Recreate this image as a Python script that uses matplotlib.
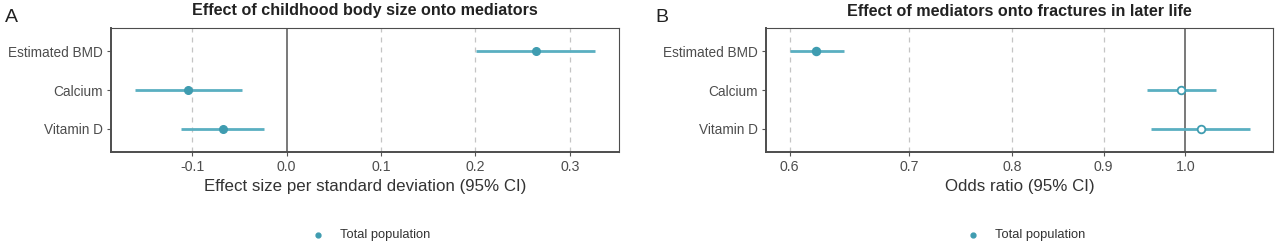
import numpy as np
import matplotlib
matplotlib.use('Agg')
import matplotlib.pyplot as plt
from matplotlib.lines import Line2D
from matplotlib.ticker import FixedLocator, NullLocator

plt.rcParams['font.family'] = ['Liberation Sans', 'DejaVu Sans']

# Panel A: effect of childhood body size onto mediators
mediators = ['Estimated BMD', 'Calcium', 'Vitamin D']
beta_a = [0.264, -0.104, -0.067]
lo_a = [0.201, -0.161, -0.112]
hi_a = [0.327, -0.047, -0.024]
ticks_a = [-0.1, 0.0, 0.1, 0.2, 0.3]

# Panel B: effect of mediators onto fractures in later life (odds ratios)
or_b = [0.621, 0.994, 1.021]
lo_b = [0.600, 0.952, 0.957]
hi_b = [0.644, 1.041, 1.087]
signif_b = [True, False, False]
ticks_b = [0.6, 0.7, 0.8, 0.9, 1.0]

LINE_C = '#5aafc1'
DOT_C = '#3f9cb0'
FRAME_C = '#4d4d4d'
TXT_C = '#4d4d4d'

fig = plt.figure(figsize=(12.8, 2.47), dpi=100)
ax_a = fig.add_axes([111 / 1280, 95 / 247, 508 / 1280, 124 / 247])
ax_b = fig.add_axes([766 / 1280, 95 / 247, 507 / 1280, 124 / 247])

ypos = np.arange(len(mediators))[::-1] + 1


def style(ax, ticks, ref, xlabel, title):
    for t in ticks:
        if t == ref:
            continue
        ax.axvline(t, color='#c4c4c4', lw=0.9, ls=(0, (4, 4)), zorder=0)
    ax.axvline(ref, color='#555555', lw=1.1, zorder=1)
    ax.set_ylim(0.41, 3.59)
    ax.set_yticks(ypos)
    ax.set_yticklabels(mediators, fontsize=9.8, color=TXT_C)
    ax.xaxis.set_major_locator(FixedLocator(ticks))
    ax.xaxis.set_minor_locator(NullLocator())
    ax.set_xticklabels([f'{t:.1f}' for t in ticks], fontsize=10.2, color=TXT_C)
    ax.tick_params(axis='both', length=3, width=0.8, color='#555555', pad=3)
    for s in ax.spines.values():
        s.set_color(FRAME_C)
        s.set_linewidth(0.8)
    ax.spines['left'].set_linewidth(1.4)
    ax.spines['bottom'].set_linewidth(1.4)
    ax.set_xlabel(xlabel, fontsize=12.2, color='#333333', labelpad=3)
    ax.set_title(title, fontsize=11.6, fontweight='bold', color='#222222', pad=9)


# Panel A
ax_a.hlines(ypos, lo_a, hi_a, color=LINE_C, lw=2.0, zorder=2)
ax_a.plot(beta_a, ypos, 'o', color=DOT_C, ms=5.5, zorder=3)
ax_a.set_xlim(-0.186, 0.352)
style(ax_a, ticks_a, 0.0, 'Effect size per standard deviation (95% CI)',
      'Effect of childhood body size onto mediators')

# Panel B
ax_b.set_xscale('log')
ax_b.hlines(ypos, lo_b, hi_b, color=LINE_C, lw=2.0, zorder=2)
for x, y, sig in zip(or_b, ypos, signif_b):
    ax_b.plot(x, y, 'o', ms=5.5, zorder=3, color=DOT_C,
              markerfacecolor=DOT_C if sig else 'white', markeredgewidth=1.3)
ax_b.set_xlim(0.582, 1.12)
style(ax_b, ticks_b, 1.0, 'Odds ratio (95% CI)',
      'Effect of mediators onto fractures in later life')

fig.text(5 / 1280, 1 - 18 / 247, 'A', fontsize=14, va='center', ha='left', color='#222222')
fig.text(655 / 1280, 1 - 18 / 247, 'B', fontsize=14, va='center', ha='left', color='#222222')

# legends drawn by hand: a small dot and its label under each panel
for x_dot in (318, 973):
    fig.add_artist(Line2D([x_dot / 1280], [1 - 235 / 247], marker='o', ls='none',
                          color=DOT_C, ms=3.5, transform=fig.transFigure))
    fig.text((x_dot + 22) / 1280, 1 - 235 / 247, 'Total population', fontsize=9.3,
             va='center', ha='left', color='#333333')

fig.savefig('out.png', dpi=100)
